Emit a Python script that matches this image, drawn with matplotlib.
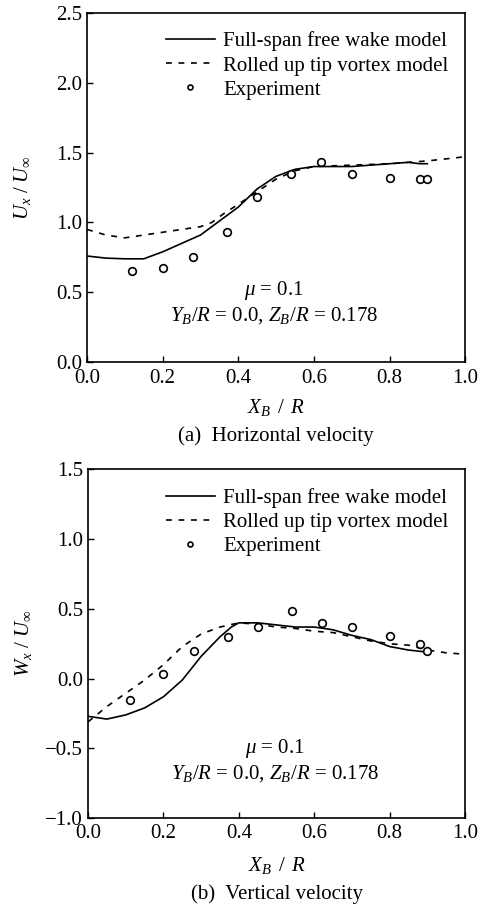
import matplotlib
matplotlib.use("Agg")
import matplotlib.pyplot as plt

plt.rcParams["font.family"] = ["Liberation Serif", "DejaVu Serif"]
plt.rcParams["mathtext.fontset"] = "custom"
plt.rcParams["mathtext.rm"] = "Liberation Serif"
plt.rcParams["mathtext.it"] = "Liberation Serif:italic"
plt.rcParams["xtick.direction"] = "in"
plt.rcParams["ytick.direction"] = "in"

# (a) horizontal velocity
ux_full_x = [0.0, 0.05, 0.10, 0.15, 0.20, 0.25, 0.30, 0.35, 0.40, 0.45, 0.50, 0.55, 0.60, 0.70, 0.80, 0.85, 0.88, 0.90]
ux_full_y = [0.76, 0.745, 0.74, 0.74, 0.79, 0.85, 0.91, 1.01, 1.11, 1.24, 1.33, 1.38, 1.40, 1.40, 1.42, 1.43, 1.42, 1.42]
ux_roll_x = [0.0, 0.05, 0.10, 0.15, 0.20, 0.25, 0.30, 0.33, 0.36, 0.40, 0.45, 0.50, 0.55, 0.60, 0.70, 0.80, 0.90, 1.0]
ux_roll_y = [0.95, 0.91, 0.89, 0.91, 0.93, 0.95, 0.97, 1.00, 1.06, 1.13, 1.22, 1.31, 1.37, 1.40, 1.41, 1.42, 1.44, 1.47]
ux_exp_x = [0.12, 0.20, 0.28, 0.37, 0.45, 0.54, 0.62, 0.70, 0.80, 0.88, 0.90]
ux_exp_y = [0.65, 0.675, 0.75, 0.935, 1.18, 1.35, 1.435, 1.35, 1.32, 1.31, 1.31]

# (b) vertical velocity
wx_full_x = [0.0, 0.05, 0.10, 0.15, 0.20, 0.25, 0.30, 0.35, 0.38, 0.40, 0.45, 0.50, 0.55, 0.60, 0.65, 0.70, 0.75, 0.80, 0.85, 0.90]
wx_full_y = [-0.27, -0.29, -0.26, -0.21, -0.13, -0.01, 0.16, 0.30, 0.37, 0.40, 0.40, 0.385, 0.37, 0.37, 0.35, 0.31, 0.28, 0.23, 0.205, 0.19]
wx_roll_x = [0.0, 0.05, 0.10, 0.15, 0.20, 0.25, 0.30, 0.35, 0.40, 0.45, 0.50, 0.55, 0.60, 0.65, 0.70, 0.75, 0.80, 0.85, 0.90, 0.95, 1.0]
wx_roll_y = [-0.31, -0.20, -0.105, -0.01, 0.10, 0.23, 0.32, 0.37, 0.40, 0.39, 0.37, 0.36, 0.34, 0.33, 0.30, 0.27, 0.25, 0.24, 0.205, 0.185, 0.175]
wx_exp_x = [0.11, 0.20, 0.28, 0.37, 0.45, 0.54, 0.62, 0.70, 0.80, 0.88, 0.90]
wx_exp_y = [-0.15, 0.035, 0.20, 0.30, 0.37, 0.485, 0.40, 0.37, 0.305, 0.25, 0.20]

labels = ["Full-span free wake model", "Rolled up tip vortex model", "Experiment"]

fig = plt.figure(figsize=(4.81, 9.08), dpi=100)
ax1 = fig.add_axes([0.181, 0.601, 0.786, 0.385])
ax2 = fig.add_axes([0.183, 0.099, 0.784, 0.384])


def panel(ax, fx, fy, rx, ry, ex, ey, ylim, yticks, ylabel, caption, xl_y, cap_y, mu_y):
    ax.plot(fx, fy, "k-", lw=1.2, label=labels[0])
    ax.plot(rx, ry, "k", lw=1.2, ls=(0, (3.5, 4)), label=labels[1])
    ax.plot(ex, ey, "o", ms=5.5, mfc="white", mec="k", mew=1.2, ls="none", label=labels[2])
    ax.set_xlim(0, 1)
    ax.set_ylim(*ylim)
    ax.set_xticks([0.0, 0.2, 0.4, 0.6, 0.8, 1.0])
    ax.set_xticklabels(["0.0", "0.2", "0.4", "0.6", "0.8", "1.0"])
    ax.set_yticks(yticks)
    ax.set_yticklabels([("%.1f" % v).replace("-", "\u2212") for v in yticks])
    ax.tick_params(labelsize=15, length=4, width=1)
    ax.tick_params(axis="x", pad=4.5)
    ax.tick_params(axis="y", pad=3.5)
    for s in ax.spines.values():
        s.set_linewidth(1.2)
    ax.set_ylabel(ylabel, fontsize=15)
    ax.yaxis.set_label_coords(-0.143, 0.5)
    ax.text(0.5, xl_y, r"$X_B\ \,/\ \,R$", transform=ax.transAxes, ha="center", va="center", fontsize=15)
    ax.text(0.495, mu_y, r"$\mu$ = 0.1", transform=ax.transAxes, ha="center", va="center", fontsize=15)
    ax.text(0.495, mu_y - 0.072, r"$Y_B/R$ = 0.0, $Z_B/R$ = 0.178", transform=ax.transAxes,
            ha="center", va="center", fontsize=15)
    ax.text(0.5, cap_y, caption, transform=ax.transAxes, ha="center", va="center", fontsize=15)
    ax.legend(loc="upper right", frameon=False, fontsize=15, handlelength=2.35,
              handletextpad=0.4, labelspacing=0.22, markerscale=0.65,
              bbox_to_anchor=(0.978, 0.97), borderaxespad=0.0)


panel(ax1, ux_full_x, ux_full_y, ux_roll_x, ux_roll_y, ux_exp_x, ux_exp_y,
      (0, 2.5), [0.0, 0.5, 1.0, 1.5, 2.0, 2.5], r"$U_x\ /\ U_\infty$",
      "(a)  Horizontal velocity", -0.129, -0.212, 0.206)
panel(ax2, wx_full_x, wx_full_y, wx_roll_x, wx_roll_y, wx_exp_x, wx_exp_y,
      (-1.0, 1.5), [-1.0, -0.5, 0.0, 0.5, 1.0, 1.5], r"$W_x\ /\ U_\infty$",
      "(b)  Vertical velocity", -0.135, -0.217, 0.20)

fig.savefig("out.png", dpi=100)
